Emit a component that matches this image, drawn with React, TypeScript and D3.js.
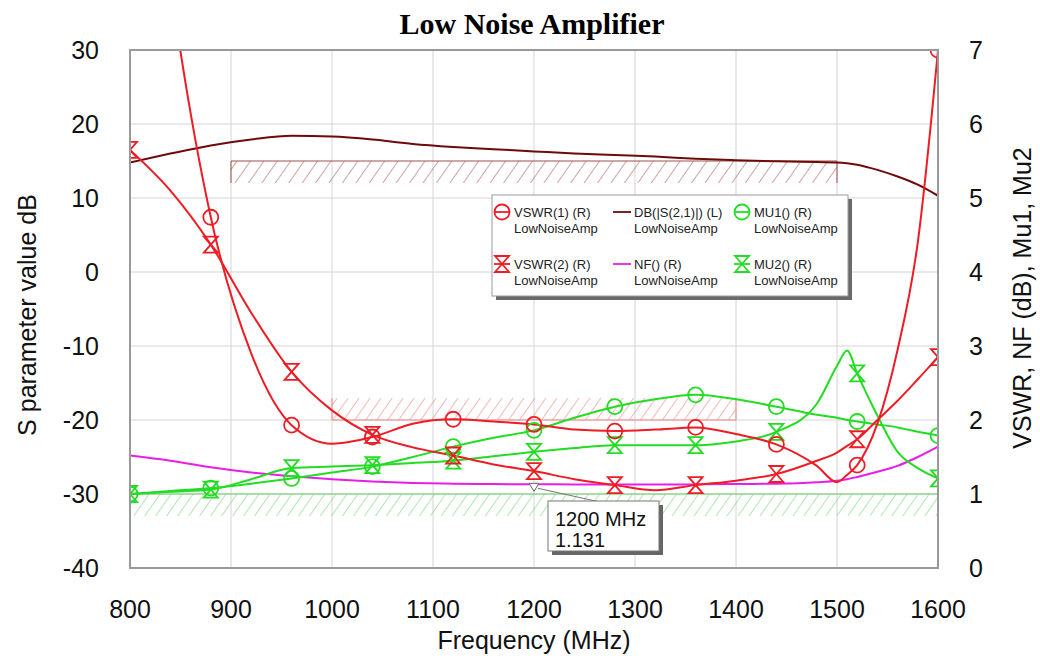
import React from "react";
import * as d3 from "d3";

// sweep frequencies (MHz)
const freqs = [800, 840, 880, 920, 960, 1000, 1040, 1080, 1120, 1160, 1200, 1240, 1280, 1320, 1360, 1400, 1440, 1480, 1500, 1510, 1520, 1540, 1560, 1580, 1600];

// right axis series
const vswr1 = [12.5, 7.9, 4.74, 2.9, 1.93, 1.68, 1.77, 1.95, 2.01, 1.98, 1.94, 1.87, 1.85, 1.87, 1.9, 1.81, 1.67, 1.38, 1.16, 1.26, 1.39, 1.95, 2.95, 4.4, 7.0];
const vswr2 = [5.65, 5.1, 4.37, 3.45, 2.65, 2.13, 1.8, 1.63, 1.52, 1.4, 1.31, 1.2, 1.12, 1.05, 1.12, 1.18, 1.27, 1.45, 1.56, 1.65, 1.74, 2.0, 2.26, 2.55, 2.85];
const nf = [1.52, 1.45, 1.36, 1.29, 1.24, 1.2, 1.17, 1.15, 1.14, 1.135, 1.131, 1.13, 1.13, 1.13, 1.13, 1.135, 1.14, 1.16, 1.18, 1.2, 1.23, 1.3, 1.38, 1.5, 1.64];
const mu1 = [1.0, 1.04, 1.08, 1.14, 1.21, 1.29, 1.37, 1.5, 1.64, 1.76, 1.86, 2.03, 2.18, 2.28, 2.34, 2.28, 2.18, 2.07, 2.03, 2.0, 1.98, 1.94, 1.9, 1.84, 1.79];
const mu2 = [1.0, 1.03, 1.06, 1.2, 1.35, 1.37, 1.39, 1.42, 1.45, 1.51, 1.57, 1.62, 1.66, 1.66, 1.66, 1.71, 1.84, 2.22, 2.73, 2.94, 2.63, 2.06, 1.57, 1.35, 1.21];

// left axis series
const s21 = [14.8, 16.0, 17.1, 17.9, 18.4, 18.3, 17.9, 17.3, 16.9, 16.6, 16.3, 16.0, 15.8, 15.6, 15.3, 15.1, 14.95, 14.85, 14.8, 14.7, 14.5, 13.8, 12.9, 11.8, 10.3];

const markerFreqs = [800, 880, 960, 1040, 1120, 1200, 1280, 1360, 1440, 1520, 1600];

const xTicks = [800, 900, 1000, 1100, 1200, 1300, 1400, 1500, 1600];
const leftTicks = [-40, -30, -20, -10, 0, 10, 20, 30];
const rightTicks = [0, 1, 2, 3, 4, 5, 6, 7];

// optimisation goals
const goalS21 = { start: 900, stop: 1500, value: 15 };
const goalVswr = { start: 1000, stop: 1400, value: 2 };
const goalNf = { start: 800, stop: 1600, value: 1 };

// marker readout
const readoutFreq = 1200;
const readoutValue = 1.131;

const RED = "#ee1c24";
const DARKRED = "#6e0a0a";
const MAGENTA = "#e81ee8";
const GREEN = "#22dd22";
const FONT = "'Liberation Sans', Arial, sans-serif";

const series = [
  { key: "s21", name: "DB(|S(2,1)|) (L)", data: s21, color: DARKRED, marker: null, axis: "L", col: 1, row: 0 },
  { key: "nf", name: "NF() (R)", data: nf, color: MAGENTA, marker: null, axis: "R", col: 1, row: 1 },
  { key: "mu1", name: "MU1() (R)", data: mu1, color: GREEN, marker: "circle", axis: "R", col: 2, row: 0 },
  { key: "mu2", name: "MU2() (R)", data: mu2, color: GREEN, marker: "hour", axis: "R", col: 2, row: 1 },
  { key: "vswr2", name: "VSWR(2) (R)", data: vswr2, color: RED, marker: "hour", axis: "R", col: 0, row: 1 },
  { key: "vswr1", name: "VSWR(1) (R)", data: vswr1, color: RED, marker: "circle", axis: "R", col: 0, row: 0 },
];

function Marker({ type, cx, cy, color }) {
  if (type === "circle") {
    return <circle cx={cx} cy={cy} r={7.5} fill="none" stroke={color} strokeWidth={1.8} />;
  }
  const w = 7, h = 8;
  return (
    <path
      d={`M${cx - w},${cy - h}L${cx + w},${cy - h}L${cx - w},${cy + h}L${cx + w},${cy + h}Z`}
      fill="none"
      stroke={color}
      strokeWidth={1.8}
      strokeLinejoin="miter"
    />
  );
}

export default function App() {
  const W = 1040, H = 659;
  const plot = { left: 130, right: 938, top: 50, bottom: 568 };

  const x = d3.scaleLinear().domain([800, 1600]).range([plot.left, plot.right]);
  const yL = d3.scaleLinear().domain([-40, 30]).range([plot.bottom, plot.top]);
  const yR = d3.scaleLinear().domain([0, 7]).range([plot.bottom, plot.top]);

  const lineFor = (s) =>
    d3
      .line()
      .x((d, i) => x(freqs[i]))
      .y((d) => (s.axis === "L" ? yL(d) : yR(d)))
      .curve(d3.curveMonotoneX)(s.data);

  const hatchH = 22;
  const midX = (plot.left + plot.right) / 2;

  // legend layout
  const lg = { x: 492, y: 195, w: 356, h: 101 };
  const colX = [502, 622, 742];
  const rowY = [217, 269];

  const rx = x(readoutFreq);
  const ry = yR(readoutValue);

  return (
    <svg width={W} height={H} style={{ position: "absolute", left: 0, top: 0, background: "#fff" }} fontFamily={FONT}>
      <defs>
        <clipPath id="plotClip">
          <rect x={plot.left} y={plot.top} width={plot.right - plot.left} height={plot.bottom - plot.top} />
        </clipPath>
        <pattern id="hatchS21" width={11} height={11} patternUnits="userSpaceOnUse" patternTransform="rotate(35)">
          <line x1={0} y1={0} x2={0} y2={11} stroke="#b06464" strokeWidth={1.2} />
        </pattern>
        <pattern id="hatchVswr" width={9} height={9} patternUnits="userSpaceOnUse" patternTransform="rotate(35)">
          <line x1={0} y1={0} x2={0} y2={9} stroke="#f08888" strokeWidth={1.2} />
        </pattern>
        <pattern id="hatchNf" width={9} height={9} patternUnits="userSpaceOnUse" patternTransform="rotate(35)">
          <line x1={0} y1={0} x2={0} y2={9} stroke="#78d878" strokeWidth={1.2} />
        </pattern>
      </defs>

      {/* title */}
      <text x={532} y={34} textAnchor="middle" fontFamily="'Liberation Serif', 'Times New Roman', serif" fontWeight="bold" fontSize={30}>
        Low Noise Amplifier
      </text>

      {/* grid */}
      {xTicks.map((t) => (
        <line key={"gx" + t} x1={x(t)} x2={x(t)} y1={plot.top} y2={plot.bottom} stroke="#d4d4d4" strokeWidth={1} />
      ))}
      {leftTicks.map((t) => (
        <line key={"gy" + t} x1={plot.left} x2={plot.right} y1={yL(t)} y2={yL(t)} stroke="#d4d4d4" strokeWidth={1} />
      ))}

      {/* goals */}
      <g>
        <rect x={x(goalS21.start)} y={yL(goalS21.value)} width={x(goalS21.stop) - x(goalS21.start)} height={hatchH} fill="url(#hatchS21)" />
        <line x1={x(goalS21.start)} x2={x(goalS21.stop)} y1={yL(goalS21.value)} y2={yL(goalS21.value)} stroke="#a05050" strokeWidth={1.2} />
        <line x1={x(goalS21.start)} x2={x(goalS21.start)} y1={yL(goalS21.value)} y2={yL(goalS21.value) + hatchH} stroke="#a05050" strokeWidth={1} />
        <line x1={x(goalS21.stop)} x2={x(goalS21.stop)} y1={yL(goalS21.value)} y2={yL(goalS21.value) + hatchH} stroke="#a05050" strokeWidth={1} />

        <rect x={x(goalVswr.start)} y={yR(goalVswr.value) - hatchH} width={x(goalVswr.stop) - x(goalVswr.start)} height={hatchH} fill="url(#hatchVswr)" />
        <line x1={x(goalVswr.start)} x2={x(goalVswr.stop)} y1={yR(goalVswr.value)} y2={yR(goalVswr.value)} stroke="#f08888" strokeWidth={1.2} />
        <line x1={x(goalVswr.start)} x2={x(goalVswr.start)} y1={yR(goalVswr.value) - hatchH} y2={yR(goalVswr.value)} stroke="#f08888" strokeWidth={1} />
        <line x1={x(goalVswr.stop)} x2={x(goalVswr.stop)} y1={yR(goalVswr.value) - hatchH} y2={yR(goalVswr.value)} stroke="#f08888" strokeWidth={1} />

        <rect x={x(goalNf.start)} y={yR(goalNf.value)} width={x(goalNf.stop) - x(goalNf.start)} height={hatchH} fill="url(#hatchNf)" />
        <line x1={x(goalNf.start)} x2={x(goalNf.stop)} y1={yR(goalNf.value)} y2={yR(goalNf.value)} stroke="#6cd06c" strokeWidth={1.2} />
      </g>

      {/* traces */}
      <g clipPath="url(#plotClip)">
        {series.map((s) => (
          <path key={s.key} d={lineFor(s)} fill="none" stroke={s.color} strokeWidth={2} />
        ))}
        {series
          .filter((s) => s.marker)
          .map((s) =>
            markerFreqs.map((f) => {
              const i = freqs.indexOf(f);
              return <Marker key={s.key + f} type={s.marker} cx={x(f)} cy={yR(s.data[i])} color={s.color} />;
            })
          )}
      </g>

      {/* plot frame */}
      <rect x={plot.left} y={plot.top} width={plot.right - plot.left} height={plot.bottom - plot.top} fill="none" stroke="#9a9a9a" strokeWidth={2} />

      {/* readout marker */}
      <g>
        <path d={`M${rx - 5},${ry - 1}L${rx + 5},${ry - 1}L${rx},${ry + 7}Z`} fill="#fff" stroke="#666" strokeWidth={1} />
        <line x1={rx + 4} y1={ry + 4} x2={600} y2={502} stroke="#777" strokeWidth={1} />
        <rect x={552} y={505} width={111} height={50} fill="#666" />
        <rect x={548} y={501} width={111} height={50} fill="#fff" stroke="#777" strokeWidth={1} />
        <text x={555} y={526} fontSize={20} fill="#111">{`${readoutFreq} MHz`}</text>
        <text x={555} y={547} fontSize={20} fill="#111">{readoutValue.toFixed(3)}</text>
      </g>

      {/* legend */}
      <g>
        <rect x={lg.x + 4} y={lg.y + 4} width={lg.w} height={lg.h} fill="#6a6a6a" />
        <rect x={lg.x} y={lg.y} width={lg.w} height={lg.h} fill="#fff" stroke="#999" strokeWidth={1} />
        {series.map((s) => {
          const cx = colX[s.col];
          const cy = rowY[s.row] - 5;
          return (
            <g key={"lg" + s.key}>
              {s.marker ? (
                <>
                  <line x1={cx - 8} x2={cx + 8} y1={cy} y2={cy} stroke={s.color} strokeWidth={1.8} />
                  <Marker type={s.marker} cx={cx} cy={cy} color={s.color} />
                </>
              ) : (
                <line x1={cx - 9} x2={cx + 9} y1={cy} y2={cy} stroke={s.color} strokeWidth={1.8} />
              )}
              <text x={cx + 12} y={rowY[s.row]} fontSize={13} fill="#222">{s.name}</text>
              <text x={cx + 12} y={rowY[s.row] + 16} fontSize={13} fill="#222">LowNoiseAmp</text>
            </g>
          );
        })}
      </g>

      {/* axes labels */}
      {leftTicks.map((t) => (
        <text key={"lt" + t} x={99} y={yL(t)} dy="0.36em" textAnchor="end" fontSize={25} fill="#111">{t}</text>
      ))}
      {rightTicks.map((t) => (
        <text key={"rt" + t} x={976} y={yR(t)} dy="0.36em" textAnchor="middle" fontSize={25} fill="#111">{t}</text>
      ))}
      {xTicks.map((t) => (
        <text key={"xt" + t} x={x(t)} y={618} textAnchor="middle" fontSize={25} fill="#111">{t}</text>
      ))}
      <text x={midX} y={649} textAnchor="middle" fontSize={25} fill="#111">Frequency (MHz)</text>
      <text transform={`translate(36,${315}) rotate(-90)`} textAnchor="middle" fontSize={25} fill="#111">S parameter value dB</text>
      <text transform={`translate(1031,${298}) rotate(-90)`} textAnchor="middle" fontSize={25} fill="#111">VSWR, NF (dB), Mu1, Mu2</text>
    </svg>
  );
}
